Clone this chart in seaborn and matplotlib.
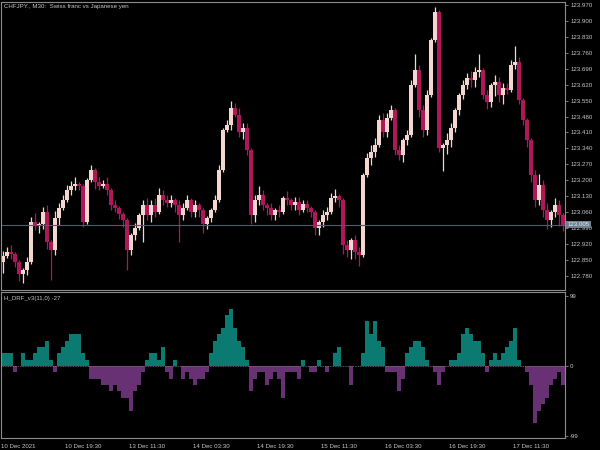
import numpy as np
import pandas as pd
import matplotlib
matplotlib.use("Agg")
import matplotlib.pyplot as plt
import matplotlib.transforms as mtransforms
import seaborn as sns

# --- data ---
title = "CHFJPY., M30:  Swiss franc vs Japanese yen"
ind_label = "H_DRF_v3(11,0) -27"
last_price = 123.005
first_open = 122.840

close = [
    122.867, 122.884, 122.875, 122.840, 122.787, 122.805, 122.840, 123.016, 122.999, 123.007,
    123.060, 122.928, 122.893, 123.034, 123.078, 123.113, 123.157, 123.175, 123.183, 123.175,
    123.016, 123.201, 123.245, 123.192, 123.175, 123.183, 123.157, 123.091, 123.078, 123.051,
    123.025, 122.893, 122.959, 122.990, 123.047, 123.091, 123.047, 123.091, 123.060, 123.135,
    123.113, 123.100, 123.113, 123.091, 123.047, 123.078, 123.113, 123.060, 123.091, 123.069,
    123.007, 123.034, 123.069, 123.113, 123.245, 123.421, 123.443, 123.518, 123.487, 123.412,
    123.430, 123.333, 123.047, 123.113, 123.135, 123.091, 123.078, 123.047, 123.069, 123.060,
    123.122, 123.113, 123.091, 123.104, 123.069, 123.095, 123.078, 123.060, 122.990, 123.016,
    123.047, 123.060, 123.122, 123.131, 123.113, 122.915, 122.893, 122.937, 122.884, 122.871,
    123.223, 123.298, 123.324, 123.355, 123.465, 123.412, 123.474, 123.509, 123.333, 123.311,
    123.377, 123.399, 123.619, 123.685, 123.509, 123.421, 123.575, 123.817, 123.940, 123.342,
    123.355, 123.377, 123.430, 123.509, 123.575, 123.619, 123.650, 123.641, 123.676, 123.685,
    123.575, 123.544, 123.619, 123.632, 123.575, 123.606, 123.597, 123.707, 123.720, 123.553,
    123.465, 123.377, 123.223, 123.113, 123.179, 123.069, 123.025, 123.060, 123.091, 123.047,
    123.005,
]

# wick lengths above / below the body
wick_up = [
    0.02, 0.02, 0.03, 0.01, 0.01, 0.01, 0.02, 0.02, 0.04, 0.01,
    0.02, 0.03, 0.01, 0.03, 0.02, 0.02, 0.02, 0.02, 0.03, 0.01,
    0.01, 0.01, 0.02, 0.01, 0.02, 0.02, 0.03, 0.01, 0.02, 0.01,
    0.01, 0.01, 0.01, 0.02, 0.01, 0.02, 0.03, 0.02, 0.03, 0.03,
    0.02, 0.02, 0.02, 0.01, 0.02, 0.02, 0.02, 0.01, 0.02, 0.01,
    0.01, 0.01, 0.01, 0.02, 0.02, 0.01, 0.02, 0.03, 0.02, 0.03,
    0.02, 0.02, 0.01, 0.02, 0.04, 0.02, 0.01, 0.02, 0.01, 0.02,
    0.01, 0.03, 0.01, 0.02, 0.02, 0.02, 0.02, 0.01, 0.01, 0.01,
    0.02, 0.02, 0.02, 0.03, 0.01, 0.01, 0.02, 0.01, 0.02, 0.02,
    0.01, 0.02, 0.03, 0.03, 0.02, 0.03, 0.02, 0.02, 0.01, 0.02,
    0.01, 0.02, 0.02, 0.07, 0.02, 0.02, 0.02, 0.01, 0.02, 0.01,
    0.01, 0.03, 0.02, 0.01, 0.01, 0.02, 0.02, 0.03, 0.02, 0.07,
    0.01, 0.02, 0.01, 0.03, 0.02, 0.02, 0.02, 0.02, 0.07, 0.02,
    0.01, 0.01, 0.01, 0.02, 0.05, 0.02, 0.03, 0.01, 0.03, 0.02,
    0.01,
]
wick_dn = [
    0.05, 0.01, 0.02, 0.02, 0.03, 0.04, 0.02, 0.01, 0.02, 0.03,
    0.02, 0.03, 0.13, 0.02, 0.03, 0.01, 0.01, 0.02, 0.02, 0.02,
    0.02, 0.01, 0.01, 0.03, 0.02, 0.01, 0.02, 0.02, 0.02, 0.02,
    0.03, 0.09, 0.02, 0.02, 0.01, 0.12, 0.02, 0.03, 0.02, 0.01,
    0.02, 0.02, 0.02, 0.03, 0.12, 0.02, 0.01, 0.02, 0.02, 0.03,
    0.04, 0.02, 0.02, 0.01, 0.01, 0.01, 0.01, 0.02, 0.01, 0.02,
    0.03, 0.02, 0.04, 0.03, 0.02, 0.02, 0.03, 0.02, 0.02, 0.02,
    0.01, 0.02, 0.02, 0.02, 0.02, 0.01, 0.02, 0.02, 0.03, 0.03,
    0.02, 0.02, 0.01, 0.02, 0.03, 0.04, 0.03, 0.04, 0.03, 0.05,
    0.01, 0.01, 0.03, 0.02, 0.01, 0.02, 0.02, 0.01, 0.02, 0.02,
    0.03, 0.02, 0.01, 0.01, 0.03, 0.03, 0.02, 0.01, 0.01, 0.02,
    0.10, 0.04, 0.03, 0.02, 0.02, 0.02, 0.02, 0.03, 0.03, 0.02,
    0.02, 0.03, 0.02, 0.05, 0.03, 0.04, 0.02, 0.01, 0.02, 0.02,
    0.02, 0.03, 0.03, 0.03, 0.02, 0.03, 0.04, 0.03, 0.02, 0.05,
    0.03,
]

hist = [
    18, 18, 18, -9, 0, 18, 9, 9, 18, 27, 27, 36, 9, -9, 18, 27, 36, 45, 45, 45,
    18, 9, -18, -18, -18, -27, -27, -36, -27, -36, -45, -45, -63, -36, -27, -9, 9, 18, 18, 9,
    27, -9, -18, 9, 0, -18, -9, -18, -27, -18,
    -18, -9, 18, 36, 45, 54, 72, 81, 54, 36, 27, 9, -36, -18, -9, -9, -27, -18, -9, -18,
    -45, -9, -9, -9, -18, 9, 0, -9, -9, 9, 0, -9, 0, 18, 27, 0, 0, -27, 0, 0,
    18, 63, 45, 63, 36, 27, -9, -9, -9, -36,
    -18, 18, 27, 36, 36, 27, 9, 0, -9, -27, -9, 0, 9, 9, 18, 45, 54, 45, 36, 36,
    18, -9, 9, 18, 9, 18, 27, 36, 54, 9, 0, -9, -27, -81, -63, -54, -45, -27, -18, -9,
    -27,
]

date_labels = ["10 Dec 2021", "10 Dec 19:30", "13 Dec 11:30", "14 Dec 03:30", "14 Dec 19:30",
               "15 Dec 11:30", "16 Dec 03:30", "16 Dec 19:30", "17 Dec 11:30"]
price_ticks = [123.970, 123.900, 123.830, 123.760, 123.690, 123.620, 123.550, 123.480, 123.410,
               123.340, 123.270, 123.200, 123.130, 123.060, 122.990, 122.920, 122.850, 122.780]
ind_ticks = [99, 0, -99]

# --- style ---
sns.set_theme(style="dark", rc={"axes.facecolor": "black", "figure.facecolor": "black"})
plt.rcParams['font.family'] = ['Liberation Sans', 'DejaVu Sans']

bull, bear = '#f3d6cd', '#b0165a'
teal, purple = '#0b7a70', '#683174'
frame, txt = '#8c8c8c', '#c8c8c8'
fs = 4.4

fig = plt.figure(figsize=(6, 4.5), dpi=100)
ax1 = fig.add_axes([0.0017, 0.3556, 0.94, 0.641])
ax2 = fig.add_axes([0.0017, 0.0267, 0.94, 0.3244])

n = len(close)
x = np.arange(n)
c = np.array(close)
o = np.r_[first_open, c[:-1]]
hi = np.maximum(o, c) + np.array(wick_up)
lo = np.minimum(o, c) - np.array(wick_dn)
up = c >= o

# --- candles ---
for mask, col in [(up, bull), (~up, bear)]:
    ax1.vlines(x[mask], lo[mask], hi[mask], color=col, lw=0.9)
    ax1.bar(x[mask], (c - o)[mask], bottom=o[mask], width=0.8, color=col, linewidth=0)

ax1.axhline(last_price, color='#4f5d6a', lw=0.8)
trans = mtransforms.blended_transform_factory(ax1.transAxes, ax1.transData)
ax1.text(1.004, last_price, f"{last_price:.3f}", transform=trans, ha='left', va='center',
         fontsize=fs, color='#e8eef4',
         bbox=dict(facecolor='#6f8091', edgecolor='none', pad=0.8))
ax1.text(0.006, 0.99, title, transform=ax1.transAxes, ha='left', va='top', fontsize=fs, color=txt)

ax1.set_xlim(-0.5, n - 0.5)
ax1.set_ylim(122.717, 123.986)
ax1.set_xticks([])
ax1.yaxis.tick_right()
ax1.set_yticks(price_ticks)
ax1.set_yticklabels([f"{p:.3f}" for p in price_ticks])

# --- indicator histogram ---
df = pd.DataFrame({'bar': x, 'value': hist})
df['side'] = np.where(df['value'] >= 0, 'up', 'down')
sns.barplot(data=df, x='bar', y='value', hue='side', palette={'up': teal, 'down': purple},
            dodge=False, width=1.0, errorbar=None, legend=False, saturation=1,
            linewidth=0, ax=ax2)
ax2.axhline(0, color='#7a7a7a', lw=0.6, ls=(0, (1, 1)))
ax2.text(0.006, 0.975, ind_label, transform=ax2.transAxes, ha='left', va='top', fontsize=fs, color=txt)

ax2.set_xlim(-0.5, n - 0.5)
ax2.set_ylim(-101.8, 104.6)
ax2.yaxis.tick_right()
ax2.set_yticks(ind_ticks)
ax2.set_yticklabels([str(t) for t in ind_ticks])
ax2.set_xticks([-0.5 + 16 * k for k in range(len(date_labels))])
ax2.set_xticklabels(date_labels, ha='left')
ax2.set_xlabel('')
ax2.set_ylabel('')

for ax in (ax1, ax2):
    ax.set_facecolor('black')
    ax.grid(False)
    for s in ax.spines.values():
        s.set_color(frame)
        s.set_linewidth(0.8)
        s.set_visible(True)
    ax.tick_params(axis='both', colors=frame, labelcolor=txt, labelsize=fs,
                   length=2.5, width=0.6, pad=1.2, direction='out')
ax2.tick_params(axis='x', pad=1.5)

fig.savefig('out.png', dpi=100, facecolor='black')
